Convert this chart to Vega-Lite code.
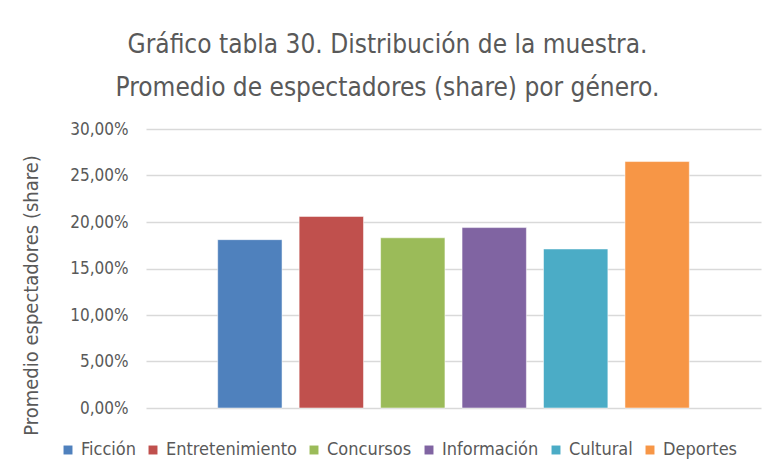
{
  "$schema": "https://vega.github.io/schema/vega-lite/v6.json",
  "width": 615,
  "height": 279,
  "autosize": "none",
  "padding": {"left": 146, "top": 129, "right": 11, "bottom": 67},
  "background": "white",
  "title": {
    "text": ["Gráfico tabla 30. Distribución de la muestra.", "Promedio de espectadores (share) por género."],
    "font": "DejaVu Sans Condensed, Open Sans",
    "fontSize": 26,
    "fontWeight": "normal",
    "color": "#595959",
    "lineHeight": 43,
    "anchor": "middle",
    "frame": "group",
    "dx": -66,
    "offset": 19
  },
  "data": {
    "values": [
      {"genero": "Ficción", "share": 0.181},
      {"genero": "Entretenimiento", "share": 0.206},
      {"genero": "Concursos", "share": 0.183},
      {"genero": "Información", "share": 0.194},
      {"genero": "Cultural", "share": 0.171},
      {"genero": "Deportes", "share": 0.265}
    ]
  },
  "mark": {"type": "bar", "stroke": "white", "strokeOpacity": 0.5, "strokeWidth": 1},
  "encoding": {
    "x": {
      "field": "genero",
      "type": "nominal",
      "sort": null,
      "axis": null,
      "scale": {"paddingInner": 0.21, "paddingOuter": 0.88}
    },
    "y": {
      "field": "share",
      "type": "quantitative",
      "scale": {"domain": [0, 0.3]},
      "axis": {
        "values": [0, 0.05, 0.1, 0.15, 0.2, 0.25, 0.3],
        "labelExpr": "replace(format(datum.value, '.2%'), '.', ',')",
        "domain": false,
        "ticks": false,
        "labelPadding": 18,
        "labelFont": "DejaVu Sans Condensed, Open Sans",
        "labelFontSize": 17,
        "labelColor": "#595959",
        "gridColor": "#D9D9D9",
        "gridWidth": 1.5,
        "title": "Promedio espectadores (share)",
        "titleFont": "DejaVu Sans Condensed, Open Sans",
        "titleFontSize": 20,
        "titleFontWeight": "normal",
        "titleColor": "#595959",
        "titlePadding": 28,
        "titleY": 166
      }
    },
    "color": {
      "field": "genero",
      "type": "nominal",
      "sort": null,
      "scale": {
        "domain": ["Ficción", "Entretenimiento", "Concursos", "Información", "Cultural", "Deportes"],
        "range": ["#4F81BD", "#C0504D", "#9BBB59", "#8064A2", "#4BACC6", "#F79646"]
      },
      "legend": {
        "title": null,
        "orient": "none",
        "direction": "horizontal",
        "legendX": -87,
        "legendY": 312,
        "symbolType": "square",
        "symbolSize": 80,
        "symbolStrokeWidth": 0,
        "labelFont": "DejaVu Sans Condensed, Open Sans",
        "labelFontSize": 18,
        "labelColor": "#595959",
        "labelOffset": 4,
        "columnPadding": 8
      }
    }
  },
  "config": {"view": {"stroke": null}}
}
